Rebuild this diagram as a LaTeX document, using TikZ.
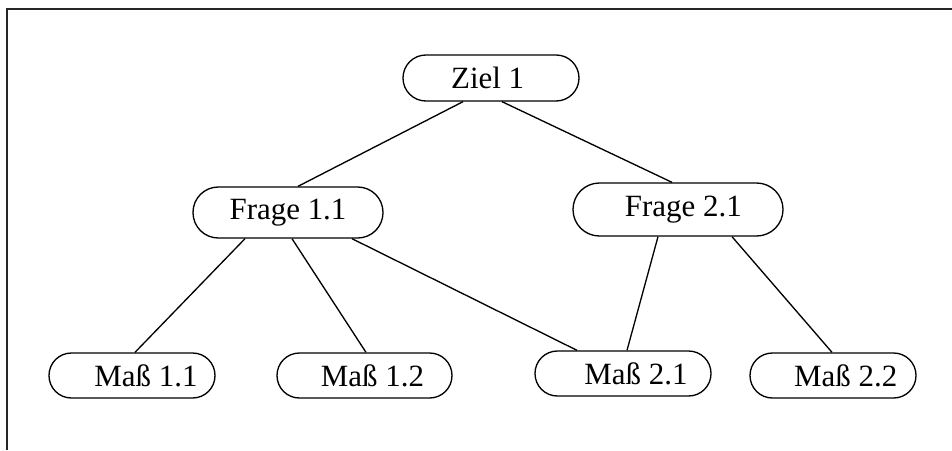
\documentclass[tikz,border=0pt]{standalone}
\usepackage{fontspec}
\setmainfont{Liberation Serif}
\begin{document}
\begin{tikzpicture}[x=0.75pt,y=-0.75pt,
  pill/.style={draw, line width=1pt, rounded corners=16.8pt, inner sep=0pt,
    font=\fontsize{23.2}{28}\selectfont, minimum height=33.75pt},
  link/.style={line width=1pt},
  frame/.style={line width=1.6pt, draw=black!85}]
\useasboundingbox (0,0) rectangle (952,450);
% open frame: top and left edges only
\draw[frame] (7,450) -- (7,9) -- (952,9);

% goal
\node[pill, minimum width=132pt, minimum height=34.5pt, rounded corners=17.2pt] (z) at (491,78) {Ziel 1\hspace*{5pt}};
% questions
\node[pill, minimum width=142.5pt, minimum height=38.25pt, rounded corners=19pt] (f1) at (288,212.5) {Frage 1.1};
\node[pill, minimum width=157.5pt, minimum height=39.75pt, rounded corners=19.8pt] (f2) at (678,209.5) {\hspace*{8pt}Frage 2.1};
% measures
\node[pill, minimum width=124.5pt] (m11) at (132,375.5) {\hspace*{21pt}Maß 1.1};
\node[pill, minimum width=131.25pt] (m12) at (364.5,375.5) {\hspace*{12pt}Maß 1.2};
\node[pill, minimum width=132pt] (m21) at (623,373.5) {\hspace*{19.5pt}Maß 2.1};
\node[pill, minimum width=124.5pt] (m22) at (833,375.5) {\hspace*{19pt}Maß 2.2};

% connectors
\draw[link] ([xshift=-21pt]z.south) -- ([xshift=7.5pt]f1.north);
\draw[link] ([xshift=8.25pt]z.south) -- ([xshift=-4.5pt]f2.north);
\draw[link] ([xshift=-32.25pt]f1.south) -- ([xshift=2.25pt]m11.north);
\draw[link] ([xshift=3pt]f1.south) -- ([xshift=1.1pt]m12.north);
\draw[link] ([xshift=48pt]f1.south) -- ([xshift=-34.5pt]m21.north);
\draw[link] ([xshift=-15pt]f2.south) -- ([xshift=3pt]m21.north);
\draw[link] ([xshift=40.5pt]f2.south) -- ([xshift=-0.75pt]m22.north);
\end{tikzpicture}
\end{document}
